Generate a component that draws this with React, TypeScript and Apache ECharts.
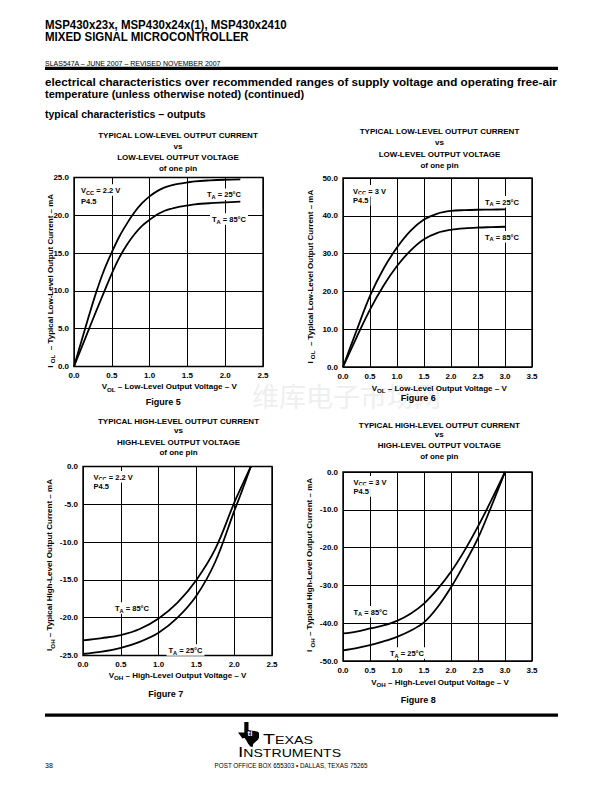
import React, { useEffect, useRef } from "react";
import * as echarts from "echarts";

// ---------- Figure 5: IOL vs VOL, VCC = 2.2 V ----------
const fig5X = [0, 0.1, 0.2, 0.3, 0.4, 0.5, 0.6, 0.7, 0.8, 0.9, 1.0, 1.1, 1.2, 1.3, 1.4, 1.5, 1.6, 1.8, 2.0, 2.2];
const fig5Y25 = [0, 3.4, 6.8, 10.0, 12.8, 15.1, 17.2, 18.9, 20.4, 21.6, 22.5, 23.2, 23.7, 24.0, 24.2, 24.35, 24.5, 24.62, 24.7, 24.75];
const fig5Y85 = [0, 2.5, 5.0, 7.5, 9.9, 12.3, 14.4, 16.1, 17.5, 18.6, 19.4, 20.1, 20.6, 20.9, 21.15, 21.3, 21.45, 21.6, 21.7, 21.8];

// ---------- Figure 6: IOL vs VOL, VCC = 3 V ----------
const fig6X = [0, 0.25, 0.5, 0.75, 1.0, 1.25, 1.5, 1.75, 2.0, 2.25, 2.5, 2.75, 3.0];
const fig6Y25 = [0, 9.6, 18.8, 26.0, 31.6, 36.0, 39.0, 40.6, 41.3, 41.5, 41.6, 41.65, 41.7];
const fig6Y85 = [0, 7.8, 15.2, 21.5, 26.7, 30.8, 33.8, 35.5, 36.3, 36.7, 36.9, 37.0, 37.1];

// ---------- Figure 7: IOH vs VOH, VCC = 2.2 V ----------
const fig7X = [0, 0.25, 0.5, 0.75, 1.0, 1.25, 1.5, 1.75, 2.0, 2.1, 2.22];
const fig7Y85 = [-23.0, -22.7, -22.3, -21.5, -20.1, -18.0, -15.0, -10.9, -4.8, -2.6, 0];
const fig7Y25 = [-24.8, -24.5, -24.0, -23.2, -22.0, -20.0, -17.1, -12.6, -5.9, -3.3, 0];

// ---------- Figure 8: IOH vs VOH, VCC = 3 V ----------
const fig8X = [0, 0.25, 0.5, 0.75, 1.0, 1.25, 1.5, 1.75, 2.0, 2.25, 2.5, 2.75, 3.0];
const fig8Y85 = [-42.7, -42.2, -41.4, -40.6, -39.4, -37.5, -34.8, -31.0, -26.4, -20.8, -14.4, -7.4, 0];
const fig8Y25 = [-47.2, -46.6, -45.8, -44.8, -43.6, -42.0, -39.8, -35.8, -30.5, -24.3, -17.5, -9.0, 0];

// axis ranges [min, max, interval]
const xRange5 = [0, 2.5, 0.5];
const yRange5 = [0, 25, 5];
const xRange6 = [0, 3.5, 0.5];
const yRange6 = [0, 50, 10];
const xRange7 = [0, 2.5, 0.5];
const yRange7 = [-25, 0, 5];
const xRange8 = [0, 3.5, 0.5];
const yRange8 = [-50, 0, 10];

const FONT = "'Liberation Sans', Arial, Helvetica, sans-serif";

function measure(text: string, font: string): number {
  const c = document.createElement("canvas").getContext("2d");
  if (!c) return 0;
  c.font = font;
  return c.measureText(text).width;
}

function fit(text: string, size: number, bold: boolean, target: number): number {
  const w = measure(text, `${bold ? "bold " : ""}${size}px ${FONT}`);
  return w > 0 ? target / w : 1;
}

function plain(x: number, y: number, text: string, o: any = {}) {
  return {
    type: "text",
    x,
    y,
    silent: true,
    scaleX: o.scaleX ?? 1,
    rotation: o.rotation ?? 0,
    z: o.z ?? 10,
    style: {
      text,
      fill: o.fill ?? "#000",
      fontSize: o.fontSize ?? 8,
      fontWeight: o.fontWeight ?? "bold",
      fontFamily: o.fontFamily ?? FONT,
      align: o.align ?? "left",
      verticalAlign: o.verticalAlign ?? "middle",
    },
  };
}

function richStyle(size: number) {
  return {
    t: { fontSize: size, fontWeight: "bold", fontFamily: FONT, fill: "#000", color: "#000", lineHeight: size + 3, verticalAlign: "middle" },
    s: { fontSize: size - 1.8, fontWeight: "bold", fontFamily: FONT, fill: "#000", color: "#000", lineHeight: 5, verticalAlign: "bottom" },
  };
}

function richText(x: number, y: number, text: string, o: any = {}) {
  const size = o.fontSize ?? 7.5;
  return {
    type: "text",
    x,
    y,
    silent: true,
    rotation: o.rotation ?? 0,
    z: 20,
    style: {
      text,
      rich: richStyle(size),
      align: o.align ?? "left",
      verticalAlign: "middle",
      backgroundColor: o.bg ?? "transparent",
      padding: o.bg ? [1, 2, 0, 2] : 0,
    },
  };
}

function title(cx: number, ys: number[], l1: string, l3: string) {
  return [
    plain(cx, ys[0], l1, { align: "center", fontSize: 8 }),
    plain(cx, ys[1], "vs", { align: "center", fontSize: 8 }),
    plain(cx, ys[2], l3, { align: "center", fontSize: 8 }),
    plain(cx, ys[3], "of one pin", { align: "center", fontSize: 8 }),
  ];
}

function buildOption() {
  const grids = [
    { left: 74, top: 177.5, width: 189, height: 189 },
    { left: 343, top: 178, width: 189, height: 189 },
    { left: 83, top: 466.5, width: 189, height: 189 },
    { left: 343, top: 472, width: 189, height: 189 },
  ].map((g) => ({ ...g, show: true, borderColor: "#000", borderWidth: 1.4, backgroundColor: "transparent", containLabel: false }));

  const axisBase = (idx: number, r: number[]) => ({
    type: "value",
    gridIndex: idx,
    min: r[0],
    max: r[1],
    interval: r[2],
    axisLine: { show: false, onZero: false },
    axisTick: { show: false },
    splitLine: { show: true, lineStyle: { color: "#000", width: 1 } },
    axisLabel: {
      color: "#000",
      fontSize: 8,
      fontWeight: "bold",
      fontFamily: FONT,
      margin: 5,
      showMinLabel: true,
      showMaxLabel: true,
      formatter: (v: number) => v.toFixed(1),
    },
  });

  const xAxis = [xRange5, xRange6, xRange7, xRange8].map((r, i) => axisBase(i, r));
  const yAxis = [yRange5, yRange6, yRange7, yRange8].map((r, i) => axisBase(i, r));

  const pairs = (xs: number[], ys: number[]) => xs.map((x, i) => [x, ys[i]]);
  const line = (i: number, xs: number[], ys: number[], name: string) => ({
    type: "line",
    name,
    xAxisIndex: i,
    yAxisIndex: i,
    data: pairs(xs, ys),
    smooth: 0.35,
    showSymbol: false,
    symbol: "none",
    silent: true,
    lineStyle: { color: "#000", width: 1.8 },
    z: 5,
  });

  const series = [
    line(0, fig5X, fig5Y25, "TA = 25°C"),
    line(0, fig5X, fig5Y85, "TA = 85°C"),
    line(1, fig6X, fig6Y25, "TA = 25°C"),
    line(1, fig6X, fig6Y85, "TA = 85°C"),
    line(2, fig7X, fig7Y25, "TA = 25°C"),
    line(2, fig7X, fig7Y85, "TA = 85°C"),
    line(3, fig8X, fig8Y25, "TA = 25°C"),
    line(3, fig8X, fig8Y85, "TA = 85°C"),
  ];

  const h1 = "MSP430x23x, MSP430x24x(1), MSP430x2410";
  const h2 = "MIXED SIGNAL MICROCONTROLLER";
  const elec = "electrical characteristics over recommended ranges of supply voltage and operating free-air";

  const TX = "M6,0 L10,0 L10,7.5 L13,8.3 L16,8.6 L19,9.2 L20,10.5 L20,15 L19,17 L16.5,19 L14.5,21 L13.8,24 L11.5,23.2 L9.5,20.5 L8,17.5 L6.3,15.3 L4.2,15.6 L2.3,13 L0,10 L6,10 Z";
  try {
    echarts.graphic.registerShape("txlogo", (echarts.graphic as any).extendPath(TX, {}));
  } catch (e) {}

  const tiRich = {
    b: { fontSize: 15, fontFamily: FONT, fill: "#000", color: "#000", verticalAlign: "bottom", lineHeight: 14 },
    s: { fontSize: 11, fontFamily: FONT, fill: "#000", color: "#000", verticalAlign: "bottom", lineHeight: 11 },
  };

  const graphic: any[] = [
    // header
    plain(45, 24.6, h1, { fontSize: 13.5, scaleX: fit(h1, 13.5, true, 242) }),
    plain(45, 36.7, h2, { fontSize: 13.5, scaleX: fit(h2, 13.5, true, 204) }),
    plain(45, 63, "SLAS547A – JUNE 2007 – REVISED NOVEMBER 2007", { fontSize: 7, fontWeight: "normal" }),
    { type: "rect", silent: true, shape: { x: 45, y: 66.8, width: 513, height: 3.2 }, style: { fill: "#000" } },
    plain(45, 82.3, elec, { fontSize: 11, scaleX: fit(elec, 11, true, 512) }),
    plain(45, 93.8, "temperature (unless otherwise noted) (continued)", { fontSize: 11 }),
    plain(45, 113.7, "typical characteristics – outputs", { fontSize: 10.5 }),

    // chart titles
    ...title(178, [135, 146.7, 157.8, 168], "TYPICAL LOW-LEVEL OUTPUT CURRENT", "LOW-LEVEL OUTPUT VOLTAGE"),
    ...title(439.5, [131.7, 142.3, 154, 165], "TYPICAL LOW-LEVEL OUTPUT CURRENT", "LOW-LEVEL OUTPUT VOLTAGE"),
    ...title(178.5, [421, 430.8, 442, 452.7], "TYPICAL HIGH-LEVEL OUTPUT CURRENT", "HIGH-LEVEL OUTPUT VOLTAGE"),
    ...title(439.3, [425.3, 434.7, 445.7, 456.7], "TYPICAL HIGH-LEVEL OUTPUT CURRENT", "HIGH-LEVEL OUTPUT VOLTAGE"),

    // figure captions
    plain(163.3, 402, "Figure 5", { align: "center", fontSize: 9 }),
    plain(418.3, 397.7, "Figure 6", { align: "center", fontSize: 9 }),
    plain(165.8, 693.7, "Figure 7", { align: "center", fontSize: 9 }),
    plain(418.3, 700, "Figure 8", { align: "center", fontSize: 9 }),

    // x-axis names
    richText(169.2, 386.7, "{t|V}{s|OL}{t| – Low-Level Output Voltage – V}", { align: "center", fontSize: 8 }),
    richText(439.2, 388.3, "{t|V}{s|OL}{t| – Low-Level Output Voltage – V}", { align: "center", fontSize: 8 }),
    richText(177.5, 675.3, "{t|V}{s|OH}{t| – High-Level Output Voltage – V}", { align: "center", fontSize: 8 }),
    richText(440, 682, "{t|V}{s|OH}{t| – High-Level Output Voltage – V}", { align: "center", fontSize: 8 }),

    // y-axis names
    richText(50, 280.8, "{t|I }{s|OL}{t|  – Typical Low-Level Output Current – mA}", { align: "center", rotation: Math.PI / 2, fontSize: 8 }),
    richText(310, 276.7, "{t|I }{s|OL}{t|  – Typical Low-Level Output Current – mA}", { align: "center", rotation: Math.PI / 2, fontSize: 8 }),
    richText(49.7, 565, "{t|I}{s|OH}{t| – Typical High-Level Output Current – mA}", { align: "center", rotation: Math.PI / 2, fontSize: 8 }),
    richText(309.7, 565, "{t|I }{s|OH}{t| – Typical High-Level Output Current – mA}", { align: "center", rotation: Math.PI / 2, fontSize: 8 }),

    // annotations fig5
    richText(79, 190, "{t|V}{s|CC}{t| = 2.2 V}", { bg: "#fff" }),
    richText(79, 201, "{t|P4.5}", { bg: "#fff" }),
    richText(205, 194.3, "{t|T}{s|A}{t| = 25°C}", { bg: "#fff" }),
    richText(210, 219, "{t|T}{s|A}{t| = 85°C}", { bg: "#fff" }),
    // fig6
    richText(351, 190.7, "{t|V}{s|CC}{t| = 3 V}", { bg: "#fff" }),
    richText(351, 200, "{t|P4.5}", { bg: "#fff" }),
    richText(483, 201.7, "{t|T}{s|A}{t| = 25°C}", { bg: "#fff" }),
    richText(483, 236.7, "{t|T}{s|A}{t| = 85°C}", { bg: "#fff" }),
    // fig7
    richText(91.5, 476.7, "{t|V}{s|CC}{t| = 2.2 V}", { bg: "#fff" }),
    richText(91.5, 485.5, "{t|P4.5}", { bg: "#fff" }),
    richText(113, 608, "{t|T}{s|A}{t| = 85°C}", { bg: "#fff" }),
    richText(166.5, 650, "{t|T}{s|A}{t| = 25°C}", { bg: "#fff" }),
    // fig8
    richText(351.5, 481.7, "{t|V}{s|CC}{t| = 3 V}", { bg: "#fff" }),
    richText(351.5, 491, "{t|P4.5}", { bg: "#fff" }),
    richText(351.5, 611.7, "{t|T}{s|A}{t| = 85°C}", { bg: "#fff" }),
    richText(388, 653, "{t|T}{s|A}{t| = 25°C}", { bg: "#fff" }),

    // watermark
    plain(252, 395, "维库电子市场网", { fontSize: 27, fontWeight: "normal", fontFamily: "'Noto Sans CJK SC', sans-serif", fill: "#efefef", z: 0 }),

    // footer
    { type: "rect", silent: true, shape: { x: 45, y: 713.5, width: 513, height: 3.2 }, style: { fill: "#000" } },
    { type: "txlogo", silent: true, x: 238, y: 722, scaleX: 1.05, scaleY: 1.05, style: { fill: "#000" } },
    plain(247.5, 733, "ti", { fontSize: 8, fill: "#fff", z: 12 }),
    {
      type: "text", silent: true, x: 263, y: 746, z: 10, scaleX: 1.3,
      style: { text: "{b|T}{s|EXAS}", verticalAlign: "bottom", rich: tiRich },
    },
    {
      type: "text", silent: true, x: 238, y: 759, z: 10, scaleX: 1.28,
      style: { text: "{b|I}{s|NSTRUMENTS}", verticalAlign: "bottom", rich: tiRich },
    },
    plain(291, 765, "POST OFFICE BOX 655303 • DALLAS, TEXAS 75265", { fontSize: 6.3, fontWeight: "normal", align: "center" }),
    plain(45, 765, "38", { fontSize: 7, fontWeight: "normal" }),
  ];

  return {
    animation: false,
    backgroundColor: "#fff",
    grid: grids,
    xAxis,
    yAxis,
    series,
    graphic,
  };
}

export default function App() {
  const ref = useRef<HTMLDivElement>(null);
  useEffect(() => {
    const el = ref.current;
    if (!el) return;
    const chart = echarts.init(el, null, { renderer: "svg" });
    chart.setOption(buildOption() as any);
    return () => chart.dispose();
  }, []);
  return (
    <div
      ref={ref}
      style={{ position: "absolute", left: 0, top: 0, width: 612, height: 792, background: "#fff" }}
    />
  );
}
